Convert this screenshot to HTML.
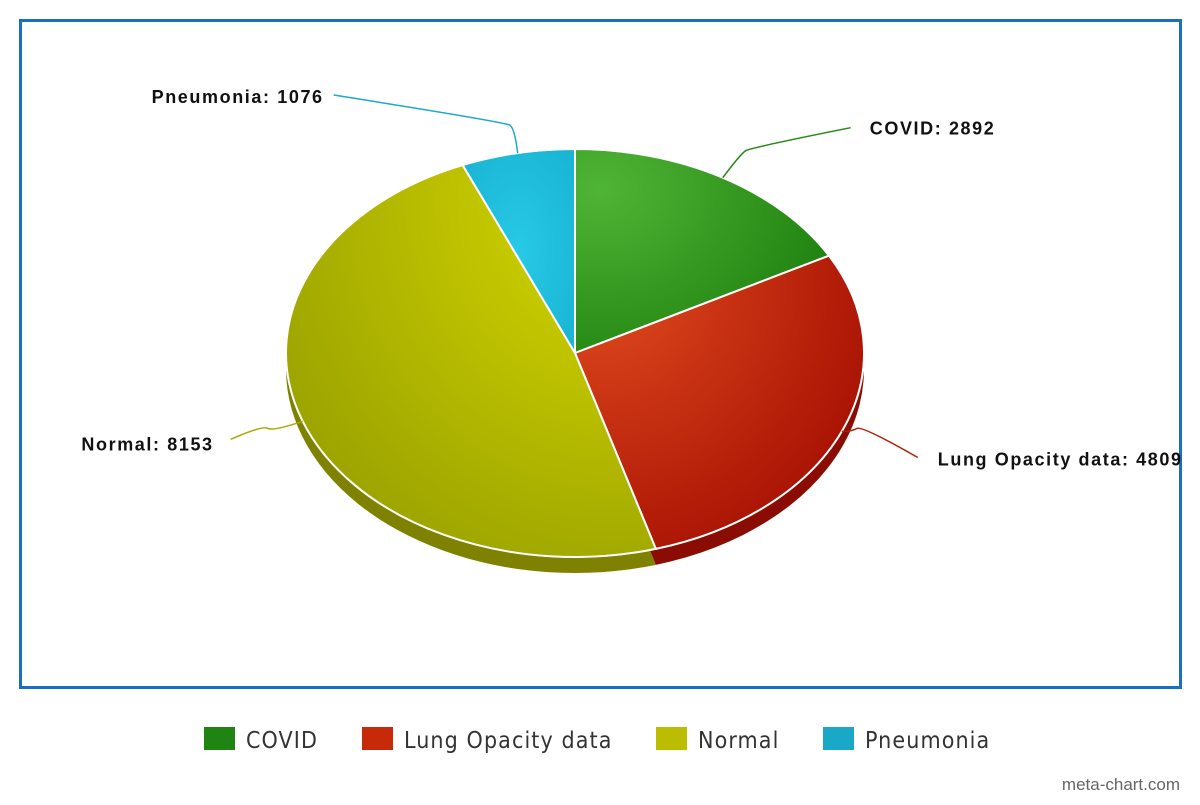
<!DOCTYPE html>
<html><head><meta charset="utf-8"><style>
body{margin:0;background:#fff;width:1200px;height:800px;overflow:hidden;font-family:"Liberation Sans",sans-serif}
</style></head><body>
<svg id="chart" width="1200" height="800" xmlns="http://www.w3.org/2000/svg">
<defs>
<radialGradient id="g0" cx="0.1" cy="0.2" r="1"><stop offset="0" stop-color="#4fb535"/><stop offset="1" stop-color="#1e800f"/></radialGradient>
<radialGradient id="g1" cx="0.1" cy="0.1" r="1"><stop offset="0" stop-color="#e04a1e"/><stop offset="1" stop-color="#a81203"/></radialGradient>
<radialGradient id="g2" cx="0.9" cy="0.1" r="1.1"><stop offset="0" stop-color="#d6d800"/><stop offset="1" stop-color="#98a000"/></radialGradient>
<radialGradient id="g3" cx="0.5" cy="0.5" r="0.8"><stop offset="0" stop-color="#27c9e6"/><stop offset="1" stop-color="#17b0d0"/></radialGradient>
</defs>
<rect x="20.5" y="20.5" width="1160" height="667" fill="#fff" stroke="#1a70c0" stroke-width="3"/>
<g id="sides"></g><g id="tops"></g><g id="labels"></g>
<g id="legend"></g>
<text x="1180" y="790" text-anchor="end" font-size="17" fill="#666">meta-chart.com</text>
</svg>
<script>
const categories=["COVID","Lung Opacity data","Normal","Pneumonia"];
const values=[2892,4809,8153,1076];
const fills=["url(#g0)","url(#g1)","url(#g2)","url(#g3)"];
const darks=["#1a6e0c","#8a0c02","#7e8200","#0f88a4"];
const lines=["#2a8a18","#b02008","#a8aa00","#1aaac8"];
const legendCols=["#1f8412","#c62a08","#bcbc00","#1aa8c8"];
const cx=575,cy=353,rx=289,ry=204,depth=16;
const NS="http://www.w3.org/2000/svg";
function el(t,a,p){const e=document.createElementNS(NS,t);for(const k in a)e.setAttribute(k,a[k]);p.appendChild(e);return e;}
function pt(a,dy){return [cx+rx*Math.sin(a),cy-ry*Math.cos(a)+(dy||0)];}
function wedge(a0,a1,dy){const p0=pt(a0,dy),p1=pt(a1,dy);const large=(a1-a0)>Math.PI?1:0;
return `M${cx},${cy+dy}L${p0[0]},${p0[1]}A${rx},${ry} 0 ${large} 1 ${p1[0]},${p1[1]}Z`;}
const total=values.reduce((a,b)=>a+b,0);
const sides=document.getElementById('sides'),tops=document.getElementById('tops'),labels=document.getElementById('labels');
let a=0;const mids=[];
values.forEach((v,i)=>{const a1=a+v/total*2*Math.PI;
 const s=el('path',{d:wedge(a,a1,depth),fill:darks[i]},sides);
 
 
 const t=el('path',{d:wedge(a,a1,0),fill:fills[i],stroke:'#fff','stroke-width':2},tops);
 
 
 mids.push((a+a1)/2);a=a1;});
el('ellipse',{cx:cx,cy:cy,rx:rx,ry:ry,fill:'none',stroke:'#fff','stroke-width':1.5},tops);
const lab=[{dx:[18,128],dy:[-24,-50],tx:147,ty:-43,anchor:'start'},
 {dx:[10,76],dy:[0,26],tx:96,ty:34,anchor:'start'},
 {dx:[-30,-72],dy:[10,18],tx:-89,ty:29,anchor:'end'},
 {dx:[-3,-184],dy:[-25,-58],tx:-194,ty:-50,anchor:'end'}];
mids.forEach((m,i)=>{const p=pt(m,0);const L=lab[i];
 const q1=[p[0]+L.dx[0],p[1]+L.dy[0]],q2=[p[0]+L.dx[1],p[1]+L.dy[1]];
 const ln=el('path',{d:`M${p[0]},${p[1]}Q${q1[0]},${q1[1]} ${q1[0]+(L.dx[0]>0?5:-5)},${q1[1]-3}T${q2[0]},${q2[1]}`,fill:'none',stroke:lines[i],'stroke-width':1.5},labels);
 
 
 const tx=el('text',{x:p[0]+L.tx,y:p[1]+L.ty,'text-anchor':L.anchor,'font-size':18,'font-weight':'bold','letter-spacing':1.6,fill:'#111'},labels);
 tx.textContent=categories[i]+': '+values[i];
 
 });
const lg=document.getElementById('legend');const lx=[204,362,656,823];
categories.forEach((c,i)=>{const r=el('rect',{x:lx[i],y:727,width:31,height:23,fill:legendCols[i]},lg);
 
 
 const t=el('text',{x:lx[i]+42,y:748,'font-size':23,'letter-spacing':1.1,fill:'#333','font-family':'DejaVu Sans Condensed, DejaVu Sans, sans-serif'},lg);
 t.textContent=c;
 
 });
</script>
</body></html>
